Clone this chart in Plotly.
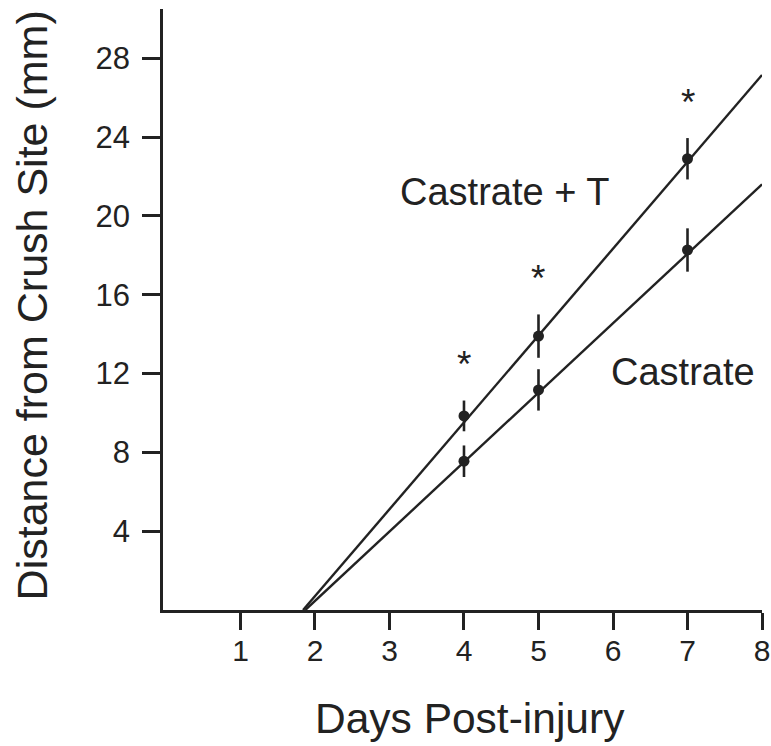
import plotly.graph_objects as go

# ---- data ----
days = [4, 5, 7]
castrate_t_mean = [9.85, 13.9, 22.9]
castrate_t_err = [0.78, 1.1, 1.05]
castrate_mean = [7.55, 11.17, 18.27]
castrate_err = [0.8, 1.05, 1.1]

# regression lines (start / end)
line_x_t = [1.84, 8.0]
line_y_t = [0.0, 27.15]
line_x_c = [1.87, 8.0]
line_y_c = [0.0, 21.6]

x_ticks = [1, 2, 3, 4, 5, 6, 7, 8]
y_ticks = [4, 8, 12, 16, 20, 24, 28]

INK = "#222222"
FONT = "Liberation Sans, Arial, sans-serif"

fig = go.Figure()

fig.add_trace(go.Scatter(x=line_x_t, y=line_y_t, mode="lines",
                         line=dict(color=INK, width=2.4), showlegend=False,
                         hoverinfo="skip"))
fig.add_trace(go.Scatter(x=line_x_c, y=line_y_c, mode="lines",
                         line=dict(color=INK, width=2.4), showlegend=False,
                         hoverinfo="skip"))

for means, errs in [(castrate_t_mean, castrate_t_err), (castrate_mean, castrate_err)]:
    fig.add_trace(go.Scatter(
        x=days, y=means, mode="markers",
        marker=dict(color=INK, size=11),
        error_y=dict(type="data", array=errs, visible=True, color=INK,
                     thickness=2.6, width=0),
        showlegend=False))

annotations = []
# significance asterisks above the Castrate + T error bars
for d, m, e in zip(days, castrate_t_mean, castrate_t_err):
    annotations.append(dict(x=d, y=m + e + 1.82, xref="x", yref="y", text="*",
                            xanchor="center", yanchor="middle",
                            showarrow=False, font=dict(size=37, color=INK, family=FONT)))

annotations.append(dict(x=4.55, y=21.2, xref="x", yref="y", text="Castrate + T",
                        xanchor="center", yanchor="middle",
                        showarrow=False, font=dict(size=38, color=INK, family=FONT)))
annotations.append(dict(x=6.94, y=12.08, xref="x", yref="y", text="Castrate",
                        xanchor="center", yanchor="middle",
                        showarrow=False, font=dict(size=38, color=INK, family=FONT)))

# axis titles
annotations.append(dict(x=0.513, y=-0.1805, xref="paper", yref="paper",
                        xanchor="center", yanchor="middle",
                        text="Days Post-injury", showarrow=False,
                        font=dict(size=42.5, color=INK, family=FONT)))
annotations.append(dict(x=-0.218, y=0.5075, xref="paper", yref="paper",
                        xanchor="center", yanchor="middle",
                        text="Distance from Crush Site (mm)", showarrow=False,
                        textangle=-90,
                        font=dict(size=43, color=INK, family=FONT)))

fig.update_layout(
    width=771, height=746,
    margin=dict(l=163, r=9, t=9, b=136, autoexpand=False),
    paper_bgcolor="white", plot_bgcolor="white",
    font=dict(family=FONT, color=INK),
    annotations=annotations,
    xaxis=dict(range=[-0.04, 8.0], tickvals=x_ticks, ticktext=[str(t) for t in x_ticks],
               showline=True, linecolor=INK, linewidth=2.5,
               ticks="outside", ticklen=17, tickwidth=2.5, tickcolor=INK,
               tickfont=dict(size=30, color=INK, family=FONT),
               ticklabelstandoff=-5, automargin=False,
               showgrid=False, zeroline=False),
    yaxis=dict(range=[0, 30.5], tickvals=y_ticks, ticktext=[str(t) for t in y_ticks],
               showline=True, linecolor=INK, linewidth=2.5,
               ticks="outside", ticklen=18, tickwidth=2.5, tickcolor=INK,
               tickfont=dict(size=31, color=INK, family=FONT),
               ticklabelstandoff=6, automargin=False,
               showgrid=False, zeroline=False),
)

fig.write_html("out.html", config={"displayModeBar": False},
               post_script="document.body.style.margin='0';")
